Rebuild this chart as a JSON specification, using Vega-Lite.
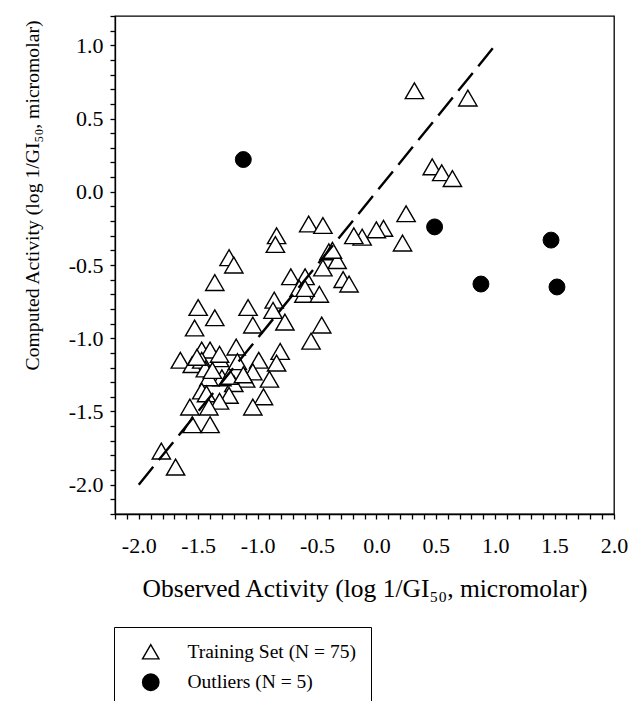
{
  "$schema": "https://vega.github.io/schema/vega-lite/v6.json",
  "autosize": {"type": "none"},
  "width": 499,
  "height": 498,
  "padding": {"left": 115, "top": 16, "right": 18, "bottom": 187},
  "background": "white",
  "datasets": {
    "points": [
      {"obs": 0.32, "comp": 0.69, "series": "Training Set (N = 75)"},
      {"obs": 0.77, "comp": 0.64, "series": "Training Set (N = 75)"},
      {"obs": 0.47, "comp": 0.17, "series": "Training Set (N = 75)"},
      {"obs": 0.55, "comp": 0.13, "series": "Training Set (N = 75)"},
      {"obs": 0.64, "comp": 0.09, "series": "Training Set (N = 75)"},
      {"obs": 0.25, "comp": -0.15, "series": "Training Set (N = 75)"},
      {"obs": 0.22, "comp": -0.35, "series": "Training Set (N = 75)"},
      {"obs": 0.06, "comp": -0.25, "series": "Training Set (N = 75)"},
      {"obs": 0.0, "comp": -0.26, "series": "Training Set (N = 75)"},
      {"obs": -0.12, "comp": -0.31, "series": "Training Set (N = 75)"},
      {"obs": -0.19, "comp": -0.3, "series": "Training Set (N = 75)"},
      {"obs": -0.57, "comp": -0.22, "series": "Training Set (N = 75)"},
      {"obs": -0.45, "comp": -0.23, "series": "Training Set (N = 75)"},
      {"obs": -0.84, "comp": -0.3, "series": "Training Set (N = 75)"},
      {"obs": -0.85, "comp": -0.36, "series": "Training Set (N = 75)"},
      {"obs": -1.24, "comp": -0.45, "series": "Training Set (N = 75)"},
      {"obs": -1.2, "comp": -0.5, "series": "Training Set (N = 75)"},
      {"obs": -1.36, "comp": -0.62, "series": "Training Set (N = 75)"},
      {"obs": -0.4, "comp": -0.41, "series": "Training Set (N = 75)"},
      {"obs": -0.33, "comp": -0.47, "series": "Training Set (N = 75)"},
      {"obs": -0.45, "comp": -0.52, "series": "Training Set (N = 75)"},
      {"obs": -0.72, "comp": -0.58, "series": "Training Set (N = 75)"},
      {"obs": -0.6, "comp": -0.58, "series": "Training Set (N = 75)"},
      {"obs": -0.65, "comp": -0.66, "series": "Training Set (N = 75)"},
      {"obs": -0.61, "comp": -0.7, "series": "Training Set (N = 75)"},
      {"obs": -0.48, "comp": -0.7, "series": "Training Set (N = 75)"},
      {"obs": -0.28, "comp": -0.6, "series": "Training Set (N = 75)"},
      {"obs": -0.23, "comp": -0.63, "series": "Training Set (N = 75)"},
      {"obs": -0.86, "comp": -0.74, "series": "Training Set (N = 75)"},
      {"obs": -0.87, "comp": -0.81, "series": "Training Set (N = 75)"},
      {"obs": -1.08, "comp": -0.79, "series": "Training Set (N = 75)"},
      {"obs": -1.04, "comp": -0.91, "series": "Training Set (N = 75)"},
      {"obs": -0.77, "comp": -0.89, "series": "Training Set (N = 75)"},
      {"obs": -0.46, "comp": -0.91, "series": "Training Set (N = 75)"},
      {"obs": -0.55, "comp": -1.02, "series": "Training Set (N = 75)"},
      {"obs": -1.5, "comp": -0.79, "series": "Training Set (N = 75)"},
      {"obs": -1.36, "comp": -0.86, "series": "Training Set (N = 75)"},
      {"obs": -1.53, "comp": -0.93, "series": "Training Set (N = 75)"},
      {"obs": -1.47, "comp": -1.08, "series": "Training Set (N = 75)"},
      {"obs": -1.4, "comp": -1.08, "series": "Training Set (N = 75)"},
      {"obs": -1.65, "comp": -1.15, "series": "Training Set (N = 75)"},
      {"obs": -1.55, "comp": -1.18, "series": "Training Set (N = 75)"},
      {"obs": -1.47, "comp": -1.15, "series": "Training Set (N = 75)"},
      {"obs": -1.32, "comp": -1.14, "series": "Training Set (N = 75)"},
      {"obs": -1.18, "comp": -1.06, "series": "Training Set (N = 75)"},
      {"obs": -1.17, "comp": -1.16, "series": "Training Set (N = 75)"},
      {"obs": -0.99, "comp": -1.15, "series": "Training Set (N = 75)"},
      {"obs": -0.81, "comp": -1.09, "series": "Training Set (N = 75)"},
      {"obs": -0.84, "comp": -1.17, "series": "Training Set (N = 75)"},
      {"obs": -1.04, "comp": -1.23, "series": "Training Set (N = 75)"},
      {"obs": -0.9, "comp": -1.28, "series": "Training Set (N = 75)"},
      {"obs": -1.1, "comp": -1.28, "series": "Training Set (N = 75)"},
      {"obs": -1.2, "comp": -1.31, "series": "Training Set (N = 75)"},
      {"obs": -1.3, "comp": -1.27, "series": "Training Set (N = 75)"},
      {"obs": -1.41, "comp": -1.27, "series": "Training Set (N = 75)"},
      {"obs": -1.44, "comp": -1.21, "series": "Training Set (N = 75)"},
      {"obs": -1.47, "comp": -1.36, "series": "Training Set (N = 75)"},
      {"obs": -1.43, "comp": -1.38, "series": "Training Set (N = 75)"},
      {"obs": -1.24, "comp": -1.39, "series": "Training Set (N = 75)"},
      {"obs": -1.32, "comp": -1.43, "series": "Training Set (N = 75)"},
      {"obs": -0.95, "comp": -1.4, "series": "Training Set (N = 75)"},
      {"obs": -1.04, "comp": -1.47, "series": "Training Set (N = 75)"},
      {"obs": -1.57, "comp": -1.47, "series": "Training Set (N = 75)"},
      {"obs": -1.41, "comp": -1.47, "series": "Training Set (N = 75)"},
      {"obs": -1.55, "comp": -1.59, "series": "Training Set (N = 75)"},
      {"obs": -1.4, "comp": -1.59, "series": "Training Set (N = 75)"},
      {"obs": -1.81, "comp": -1.77, "series": "Training Set (N = 75)"},
      {"obs": -1.69, "comp": -1.88, "series": "Training Set (N = 75)"},
      {"obs": -1.32, "comp": -1.11, "series": "Training Set (N = 75)"},
      {"obs": -1.51, "comp": -1.13, "series": "Training Set (N = 75)"},
      {"obs": -1.38, "comp": -1.22, "series": "Training Set (N = 75)"},
      {"obs": -1.24, "comp": -1.26, "series": "Training Set (N = 75)"},
      {"obs": -1.12, "comp": -1.25, "series": "Training Set (N = 75)"},
      {"obs": -0.6, "comp": -0.66, "series": "Training Set (N = 75)"},
      {"obs": -0.37, "comp": -0.4, "series": "Training Set (N = 75)"},
      {"obs": -1.12, "comp": 0.22, "series": "Outliers (N = 5)"},
      {"obs": 0.49, "comp": -0.24, "series": "Outliers (N = 5)"},
      {"obs": 1.47, "comp": -0.33, "series": "Outliers (N = 5)"},
      {"obs": 0.88, "comp": -0.63, "series": "Outliers (N = 5)"},
      {"obs": 1.52, "comp": -0.65, "series": "Outliers (N = 5)"}
    ],
    "identity": [
      {"obs": -2.0, "comp": -2.0},
      {"obs": 1.0, "comp": 1.0}
    ]
  },
  "layer": [
    {
      "data": {"name": "points"},
      "transform": [{"filter": "datum.series == 'Training Set (N = 75)'"}],
      "mark": {"type": "point", "filled": true, "strokeWidth": 1.4, "opacity": 1, "size": 335},
      "encoding": {
        "x": {"field": "obs", "type": "quantitative"},
        "y": {"field": "comp", "type": "quantitative"},
        "shape": {
          "field": "series", "type": "nominal",
          "scale": {"domain": ["Training Set (N = 75)", "Outliers (N = 5)"], "range": ["triangle-up", "circle"]},
          "legend": {
            "title": null, "orient": "none", "legendX": -1, "legendY": 611,
            "padding": 15, "rowPadding": 8.5, "symbolOffset": 12, "labelOffset": 27,
            "strokeColor": "black", "fillColor": "white",
            "symbolSize": 270, "symbolStrokeColor": "black", "symbolStrokeWidth": 1.4,
            "labelFont": "Liberation Serif", "labelFontSize": 19.5, "labelColor": "black", "labelLimit": 400
          }
        },
        "fill": {
          "field": "series", "type": "nominal",
          "scale": {"domain": ["Training Set (N = 75)", "Outliers (N = 5)"], "range": ["white", "black"]},
          "legend": {
            "title": null, "orient": "none", "legendX": -1, "legendY": 611,
            "padding": 15, "rowPadding": 8.5, "symbolOffset": 12, "labelOffset": 27,
            "strokeColor": "black", "fillColor": "white",
            "symbolSize": 270, "symbolStrokeColor": "black", "symbolStrokeWidth": 1.4,
            "labelFont": "Liberation Serif", "labelFontSize": 19.5, "labelColor": "black", "labelLimit": 400
          }
        },
        "stroke": {
          "field": "series", "type": "nominal",
          "scale": {"domain": ["Training Set (N = 75)", "Outliers (N = 5)"], "range": ["black", "black"]},
          "legend": {
            "title": null, "orient": "none", "legendX": -1, "legendY": 611,
            "padding": 15, "rowPadding": 8.5, "symbolOffset": 12, "labelOffset": 27,
            "strokeColor": "black", "fillColor": "white",
            "symbolSize": 270, "symbolStrokeColor": "black", "symbolStrokeWidth": 1.4,
            "labelFont": "Liberation Serif", "labelFontSize": 19.5, "labelColor": "black", "labelLimit": 400
          }
        }
      }
    },
    {
      "data": {"name": "points"},
      "transform": [{"filter": "datum.series == 'Outliers (N = 5)'"}],
      "mark": {"type": "point", "filled": true, "strokeWidth": 1, "opacity": 1, "size": 254},
      "encoding": {
        "x": {"field": "obs", "type": "quantitative"},
        "y": {"field": "comp", "type": "quantitative"},
        "shape": {
          "field": "series", "type": "nominal",
          "scale": {"domain": ["Training Set (N = 75)", "Outliers (N = 5)"], "range": ["triangle-up", "circle"]},
          "legend": {
            "title": null, "orient": "none", "legendX": -1, "legendY": 611,
            "padding": 15, "rowPadding": 8.5, "symbolOffset": 12, "labelOffset": 27,
            "strokeColor": "black", "fillColor": "white",
            "symbolSize": 270, "symbolStrokeColor": "black", "symbolStrokeWidth": 1.4,
            "labelFont": "Liberation Serif", "labelFontSize": 19.5, "labelColor": "black", "labelLimit": 400
          }
        },
        "fill": {
          "field": "series", "type": "nominal",
          "scale": {"domain": ["Training Set (N = 75)", "Outliers (N = 5)"], "range": ["white", "black"]},
          "legend": {
            "title": null, "orient": "none", "legendX": -1, "legendY": 611,
            "padding": 15, "rowPadding": 8.5, "symbolOffset": 12, "labelOffset": 27,
            "strokeColor": "black", "fillColor": "white",
            "symbolSize": 270, "symbolStrokeColor": "black", "symbolStrokeWidth": 1.4,
            "labelFont": "Liberation Serif", "labelFontSize": 19.5, "labelColor": "black", "labelLimit": 400
          }
        },
        "stroke": {
          "field": "series", "type": "nominal",
          "scale": {"domain": ["Training Set (N = 75)", "Outliers (N = 5)"], "range": ["black", "black"]},
          "legend": {
            "title": null, "orient": "none", "legendX": -1, "legendY": 611,
            "padding": 15, "rowPadding": 8.5, "symbolOffset": 12, "labelOffset": 27,
            "strokeColor": "black", "fillColor": "white",
            "symbolSize": 270, "symbolStrokeColor": "black", "symbolStrokeWidth": 1.4,
            "labelFont": "Liberation Serif", "labelFontSize": 19.5, "labelColor": "black", "labelLimit": 400
          }
        }
      }
    },
    {
      "data": {"name": "identity"},
      "mark": {"type": "line", "color": "black", "strokeWidth": 2.4, "strokeDash": [23, 8.7]},
      "encoding": {
        "x": {"field": "obs", "type": "quantitative"},
        "y": {"field": "comp", "type": "quantitative"}
      }
    }
  ],
  "encoding": {
    "x": {
      "field": "obs", "type": "quantitative",
      "scale": {"domain": [-2.2, 2.0], "nice": false, "zero": false},
      "axis": {
        "title": "Observed Activity (log 1/GI₅₀, micromolar)",
        "values": [-2.2,-2.1,-2.0,-1.9,-1.8,-1.7,-1.6,-1.5,-1.4,-1.3,-1.2,-1.1,-1.0,-0.9,-0.8,-0.7,-0.6,-0.5,-0.4,-0.3,-0.2,-0.1,0.0,0.1,0.2,0.3,0.4,0.5,0.6,0.7,0.8,0.9,1.0,1.1,1.2,1.3,1.4,1.5,1.6,1.7,1.8,1.9,2.0],
        "labelExpr": "abs(datum.value*2 - round(datum.value*2)) < 0.001 ? (datum.value < -0.001 ? '-' : '') + format(abs(datum.value), '.1f') : ''",
        "labelPadding": 16,
        "titleFontSize": 25.5,
        "titlePadding": 20
      }
    },
    "y": {
      "field": "comp", "type": "quantitative",
      "scale": {"domain": [-2.2, 1.2], "nice": false, "zero": false},
      "axis": {
        "title": "Computed Activity (log 1/GI₅₀, micromolar)",
        "values": [-2.2,-2.1,-2.0,-1.9,-1.8,-1.7,-1.6,-1.5,-1.4,-1.3,-1.2,-1.1,-1.0,-0.9,-0.8,-0.7,-0.6,-0.5,-0.4,-0.3,-0.2,-0.1,0.0,0.1,0.2,0.3,0.4,0.5,0.6,0.7,0.8,0.9,1.0,1.1,1.2],
        "labelExpr": "abs(datum.value*2 - round(datum.value*2)) < 0.001 ? (datum.value < -0.001 ? '-' : '') + format(abs(datum.value), '.1f') : ''",
        "labelPadding": 7,
        "titleFontSize": 19.7,
        "titleX": -73,
        "titleY": 179,
        "titleAlign": "center",
        "titleBaseline": "bottom",
        "titleAngle": -90
      }
    }
  },
  "config": {
    "view": {"stroke": "black", "strokeWidth": 1.3},
    "axis": {
      "grid": false,
      "domainColor": "black", "domainWidth": 1.3,
      "tickColor": "black", "tickWidth": 1.3, "tickSize": 5,
      "labelFont": "Liberation Serif", "labelFontSize": 22, "labelColor": "black",
      "labelOverlap": false, "labelFlush": false, "labelBound": false,
      "titleFont": "Liberation Serif", "titleFontWeight": "normal", "titleColor": "black"
    }
  }
}
